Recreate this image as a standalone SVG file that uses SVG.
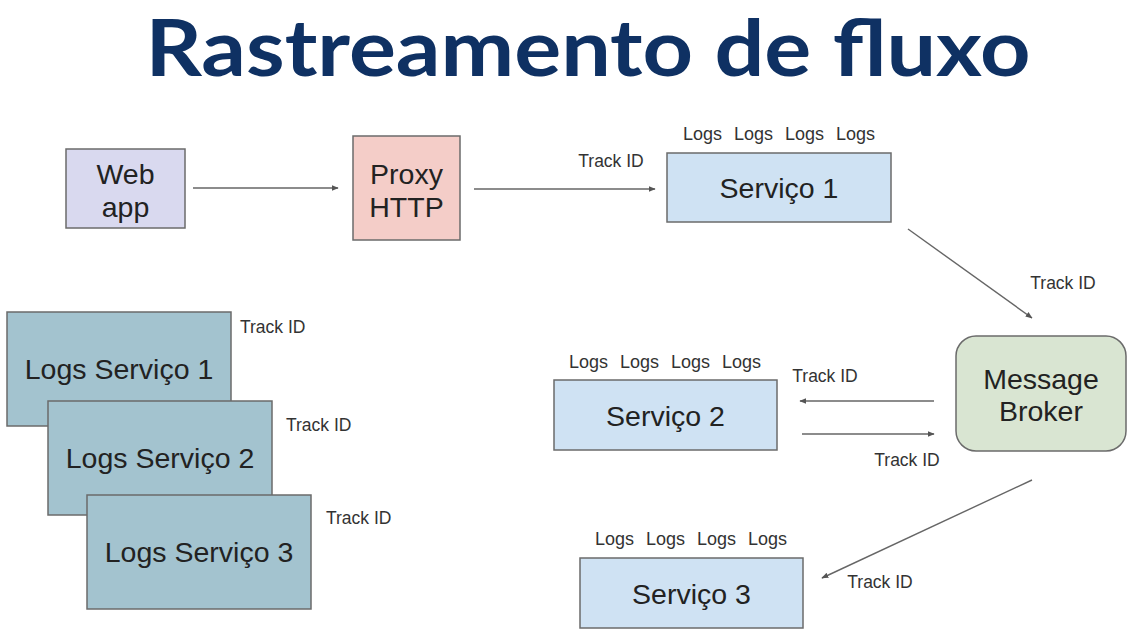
<svg xmlns="http://www.w3.org/2000/svg" width="1138" height="635" viewBox="0 0 1138 635">
<style>
.t{font-family:"Liberation Sans",Arial,sans-serif;fill:#222;text-anchor:middle}
.big{font-size:28.5px}
.lbl{font-size:17.5px;fill:#333}
.logs{font-size:18px;fill:#333;word-spacing:7px}
.box{stroke:#6b6b6b;stroke-width:1.5}
.conn{stroke:#666;stroke-width:1.4;fill:none;marker-end:url(#ah)}
</style>
<defs>
<marker id="ah" viewBox="0 0 10 10" refX="9" refY="5" markerWidth="7" markerHeight="7" markerUnits="userSpaceOnUse" orient="auto">
<path d="M0,1 L10,5 L0,9 z" fill="#555"/>
</marker>
</defs>
<rect width="1138" height="635" fill="#fff"/>
<text x="588" y="76" font-family="Lato,'Noto Sans',sans-serif" font-weight="bold" font-size="78" fill="#0f3163" text-anchor="middle" textLength="885" lengthAdjust="spacingAndGlyphs">Rastreamento de fluxo</text>

<g id="webapp">
<rect class="box" x="66" y="149" width="119" height="79" fill="#d9d9ef"/>
<text class="t big" x="125.5" y="184">Web</text>
<text class="t big" x="125.5" y="217">app</text>
</g>
<g id="proxy">
<rect class="box" x="353" y="136" width="107" height="104" fill="#f4cdc8"/>
<text class="t big" x="406.5" y="184">Proxy</text>
<text class="t big" x="406.5" y="217">HTTP</text>
</g>
<g id="servico1">
<text class="t logs" x="779" y="140">Logs Logs Logs Logs</text>
<rect class="box" x="667" y="153" width="224" height="69" fill="#cfe2f3"/>
<text class="t big" x="779" y="198">Serviço 1</text>
</g>
<g id="broker">
<rect class="box" x="956" y="336" width="170" height="115" rx="20" fill="#d9e5d2"/>
<text class="t big" x="1041" y="389">Message</text>
<text class="t big" x="1041" y="421">Broker</text>
</g>
<g id="servico2">
<text class="t logs" x="665" y="368">Logs Logs Logs Logs</text>
<rect class="box" x="554" y="380" width="223" height="70" fill="#cfe2f3"/>
<text class="t big" x="665.5" y="426">Serviço 2</text>
</g>
<g id="servico3">
<text class="t logs" x="691" y="545">Logs Logs Logs Logs</text>
<rect class="box" x="580" y="558" width="223" height="70" fill="#cfe2f3"/>
<text class="t big" x="691.5" y="604">Serviço 3</text>
</g>
<g id="logs1">
<rect class="box" x="7" y="312" width="224" height="114" fill="#a3c3cf" stroke="#5d6e76"/>
<text class="t big" x="119" y="379">Logs Serviço 1</text>
<text class="t lbl" x="240" y="333" style="text-anchor:start">Track ID</text>
</g>
<g id="logs2">
<rect class="box" x="48" y="401" width="224" height="114" fill="#a3c3cf" stroke="#5d6e76"/>
<text class="t big" x="160" y="468">Logs Serviço 2</text>
<text class="t lbl" x="286" y="431" style="text-anchor:start">Track ID</text>
</g>
<g id="logs3">
<rect class="box" x="87" y="495" width="224" height="114" fill="#a3c3cf" stroke="#5d6e76"/>
<text class="t big" x="199" y="562">Logs Serviço 3</text>
<text class="t lbl" x="326" y="524" style="text-anchor:start">Track ID</text>
</g>

<g id="connectors">
<line class="conn" x1="193" y1="188" x2="338" y2="188"/>
<line class="conn" x1="474" y1="189" x2="655" y2="189"/>
<text class="t lbl" x="611" y="167">Track ID</text>
<line class="conn" x1="908" y1="229" x2="1032" y2="318"/>
<text class="t lbl" x="1063" y="289">Track ID</text>
<line class="conn" x1="934" y1="401" x2="800" y2="401"/>
<text class="t lbl" x="825" y="382">Track ID</text>
<line class="conn" x1="802" y1="434" x2="934" y2="434"/>
<text class="t lbl" x="907" y="466">Track ID</text>
<line class="conn" x1="1032" y1="480" x2="822" y2="578"/>
<text class="t lbl" x="880" y="588">Track ID</text>
</g>
</svg>
